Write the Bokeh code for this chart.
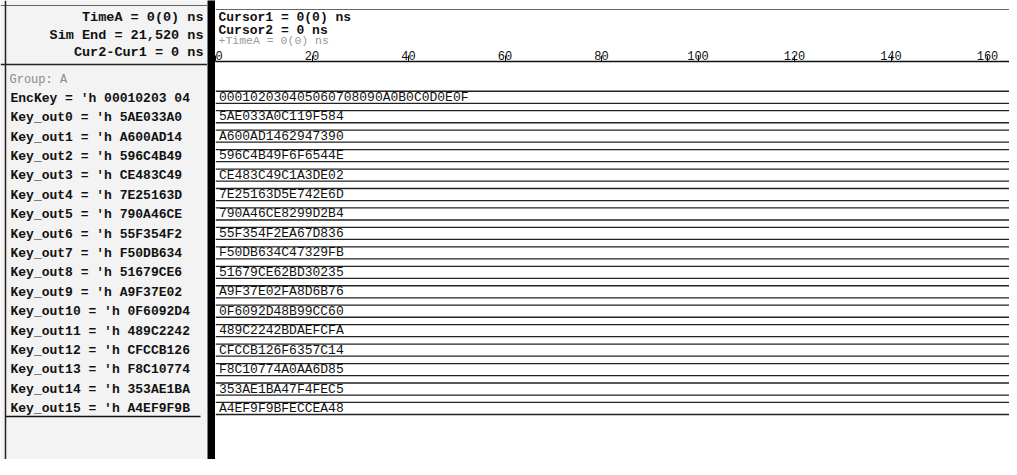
from bokeh.plotting import figure
from bokeh.layouts import row, column
from bokeh.models import Range1d, Span, ColumnDataSource, FixedTicker
from bokeh.core.properties import value
from bokeh.embed import file_html
from bokeh.resources import INLINE

# ---------------- data ----------------
signal_names = ["EncKey", "Key_out0", "Key_out1", "Key_out2", "Key_out3",
                "Key_out4", "Key_out5", "Key_out6", "Key_out7", "Key_out8",
                "Key_out9", "Key_out10", "Key_out11", "Key_out12", "Key_out13",
                "Key_out14", "Key_out15"]
bus_values = ["000102030405060708090A0B0C0D0E0F",
              "5AE033A0C119F584", "A600AD1462947390", "596C4B49F6F6544E",
              "CE483C49C1A3DE02", "7E25163D5E742E6D", "790A46CE8299D2B4",
              "55F354F2EA67D836", "F50DB634C47329FB", "51679CE62BD30235",
              "A9F37E02FA8D6B76", "0F6092D48B99CC60", "489C2242BDAEFCFA",
              "CFCCB126F6357C14", "F8C10774A0AA6D85", "353AE1BA47F4FEC5",
              "A4EF9F9BFECCEA48"]
time_ticks = [0, 20, 40, 60, 80, 100, 120, 140, 160]
group_name = "A"
sim_end = "21,520"
time_a = "0(0)"
cursor1 = "0(0)"
cursor2 = "0"
cur_diff = "0"

# ---------------- geometry / style ----------------
MONO = "Liberation Mono"
ROW0, PITCH, HALF = 97.7, 19.4, 6.0
W_LEFT, W_BAR, W_RIGHT = 207, 8, 794
H_TOTAL, H_HEAD, AXIS_Y = 459, 47, 62
PX_PER_NS = 4.825
T_MAX = W_RIGHT / PX_PER_NS
LEFT_BG = "#f3f3f3"
INK = "#111111"

rows = list(range(len(signal_names)))
centers = [ROW0 + PITCH * i for i in rows]


def left_text(name, val):
    short = val[:8] + (" " + val[8:10] if len(val) > 16 else "")
    return f"{name} = 'h {short}"


# ---------------- left panel (signal names) ----------------
left = figure(width=W_LEFT, height=H_TOTAL, x_range=Range1d(0, W_LEFT),
              y_range=Range1d(H_TOTAL, 0), toolbar_location=None,
              output_backend="svg", min_border=0, x_axis_location=None,
              y_axis_location=None, outline_line_color=None,
              background_fill_color=LEFT_BG, border_fill_color=LEFT_BG)
left.grid.visible = False

left.add_layout(Span(location=5, dimension="width", line_color="#666666", line_width=1))
left.add_layout(Span(location=5, dimension="height", line_color="#222222", line_width=1.5))
left.add_layout(Span(location=64, dimension="width", line_color="#222222", line_width=1.5))

head_src = ColumnDataSource(dict(
    x=[203, 203, 203], y=[16.5, 35, 51.5],
    t=[f"TimeA = {time_a} ns", f"Sim End = {sim_end} ns", f"Cur2-Cur1 = {cur_diff} ns"]))
left.text(x="x", y="y", text="t", source=head_src, text_align="right",
          text_baseline="middle", text_font=value(MONO), text_font_size="13.5px",
          text_font_style="bold", text_color=INK)

left.text(x=[9], y=[ROW0 - PITCH + 1], text=[f"Group: {group_name}"], text_baseline="middle",
          text_font=value(MONO), text_font_size="12px", text_color="#8a8a8a")

lab_src = ColumnDataSource(dict(
    x=[10] * len(rows), y=centers,
    t=[left_text(n, v) for n, v in zip(signal_names, bus_values)]))
left.text(x="x", y="y", text="t", source=lab_src, text_baseline="middle",
          text_font=value(MONO), text_font_size="13px", text_font_style="bold",
          text_color=INK)
left.segment(x0=[5], x1=[200], y0=[centers[-1] + 8], y1=[centers[-1] + 8],
             line_color=INK, line_width=1.5)

# ---------------- black divider ----------------
bar = figure(width=W_BAR, height=H_TOTAL, toolbar_location=None, output_backend="svg",
             min_border=0, x_axis_location=None, y_axis_location=None,
             outline_line_color=None, background_fill_color="black",
             border_fill_color="black")
bar.grid.visible = False

# ---------------- right header (cursors) ----------------
head = figure(width=W_RIGHT, height=H_HEAD, x_range=Range1d(W_LEFT + W_BAR, W_LEFT + W_BAR + W_RIGHT),
              y_range=Range1d(H_HEAD, 0), toolbar_location=None,
              output_backend="svg", min_border=0, x_axis_location=None,
              y_axis_location=None, outline_line_color=None)
head.grid.visible = False
head.add_layout(Span(location=9, dimension="width", line_color="#666666", line_width=1))
head.text(x=[218, 218], y=[17, 29.5],
          text=[f"Cursor1 = {cursor1} ns", f"Cursor2 = {cursor2} ns"],
          text_baseline="middle", text_font=value(MONO), text_font_size="13px",
          text_font_style="bold", text_color=INK)
head.text(x=[218], y=[40], text=[f"+TimeA = {time_a} ns"], text_baseline="middle",
          text_font=value(MONO), text_font_size="11.5px", text_color="#9a9a9a")

# ---------------- waveform area ----------------
wave = figure(width=W_RIGHT, height=H_TOTAL - H_HEAD, x_range=Range1d(0, T_MAX),
              y_range=Range1d(H_TOTAL, AXIS_Y), toolbar_location=None,
              output_backend="svg", min_border=0, x_axis_location="above",
              y_axis_location=None, outline_line_color=None)
wave.grid.visible = False
ax = wave.xaxis[0]
ax.ticker = FixedTicker(ticks=time_ticks)
ax.minor_tick_line_color = None
ax.major_tick_in = 0
ax.major_tick_out = 6
ax.major_label_standoff = -4
ax.major_label_text_align = "left"
ax.major_label_text_font = MONO
ax.major_label_text_font_size = "12px"
ax.major_label_text_color = INK
ax.axis_line_color = INK
ax.axis_line_width = 1.5
ax.major_tick_line_color = INK

bus_src = ColumnDataSource(dict(
    x0=[0.0] * len(rows), x1=[T_MAX] * len(rows),
    top=[c - HALF for c in centers], bot=[c + HALF for c in centers],
    y=centers, xt=[0.7] * len(rows), t=bus_values))
wave.segment(x0="x0", x1="x1", y0="top", y1="top", source=bus_src,
             line_color="#222222", line_width=1.3)
wave.segment(x0="x0", x1="x1", y0="bot", y1="bot", source=bus_src,
             line_color="#222222", line_width=1.3)
wave.text(x="xt", y="y", text="t", source=bus_src, text_baseline="middle",
          text_font=value(MONO), text_font_size="13px", text_color=INK)

layout = row(left, bar, column(head, wave, spacing=0), spacing=0)

open("out.html", "w").write(file_html(layout, INLINE))
